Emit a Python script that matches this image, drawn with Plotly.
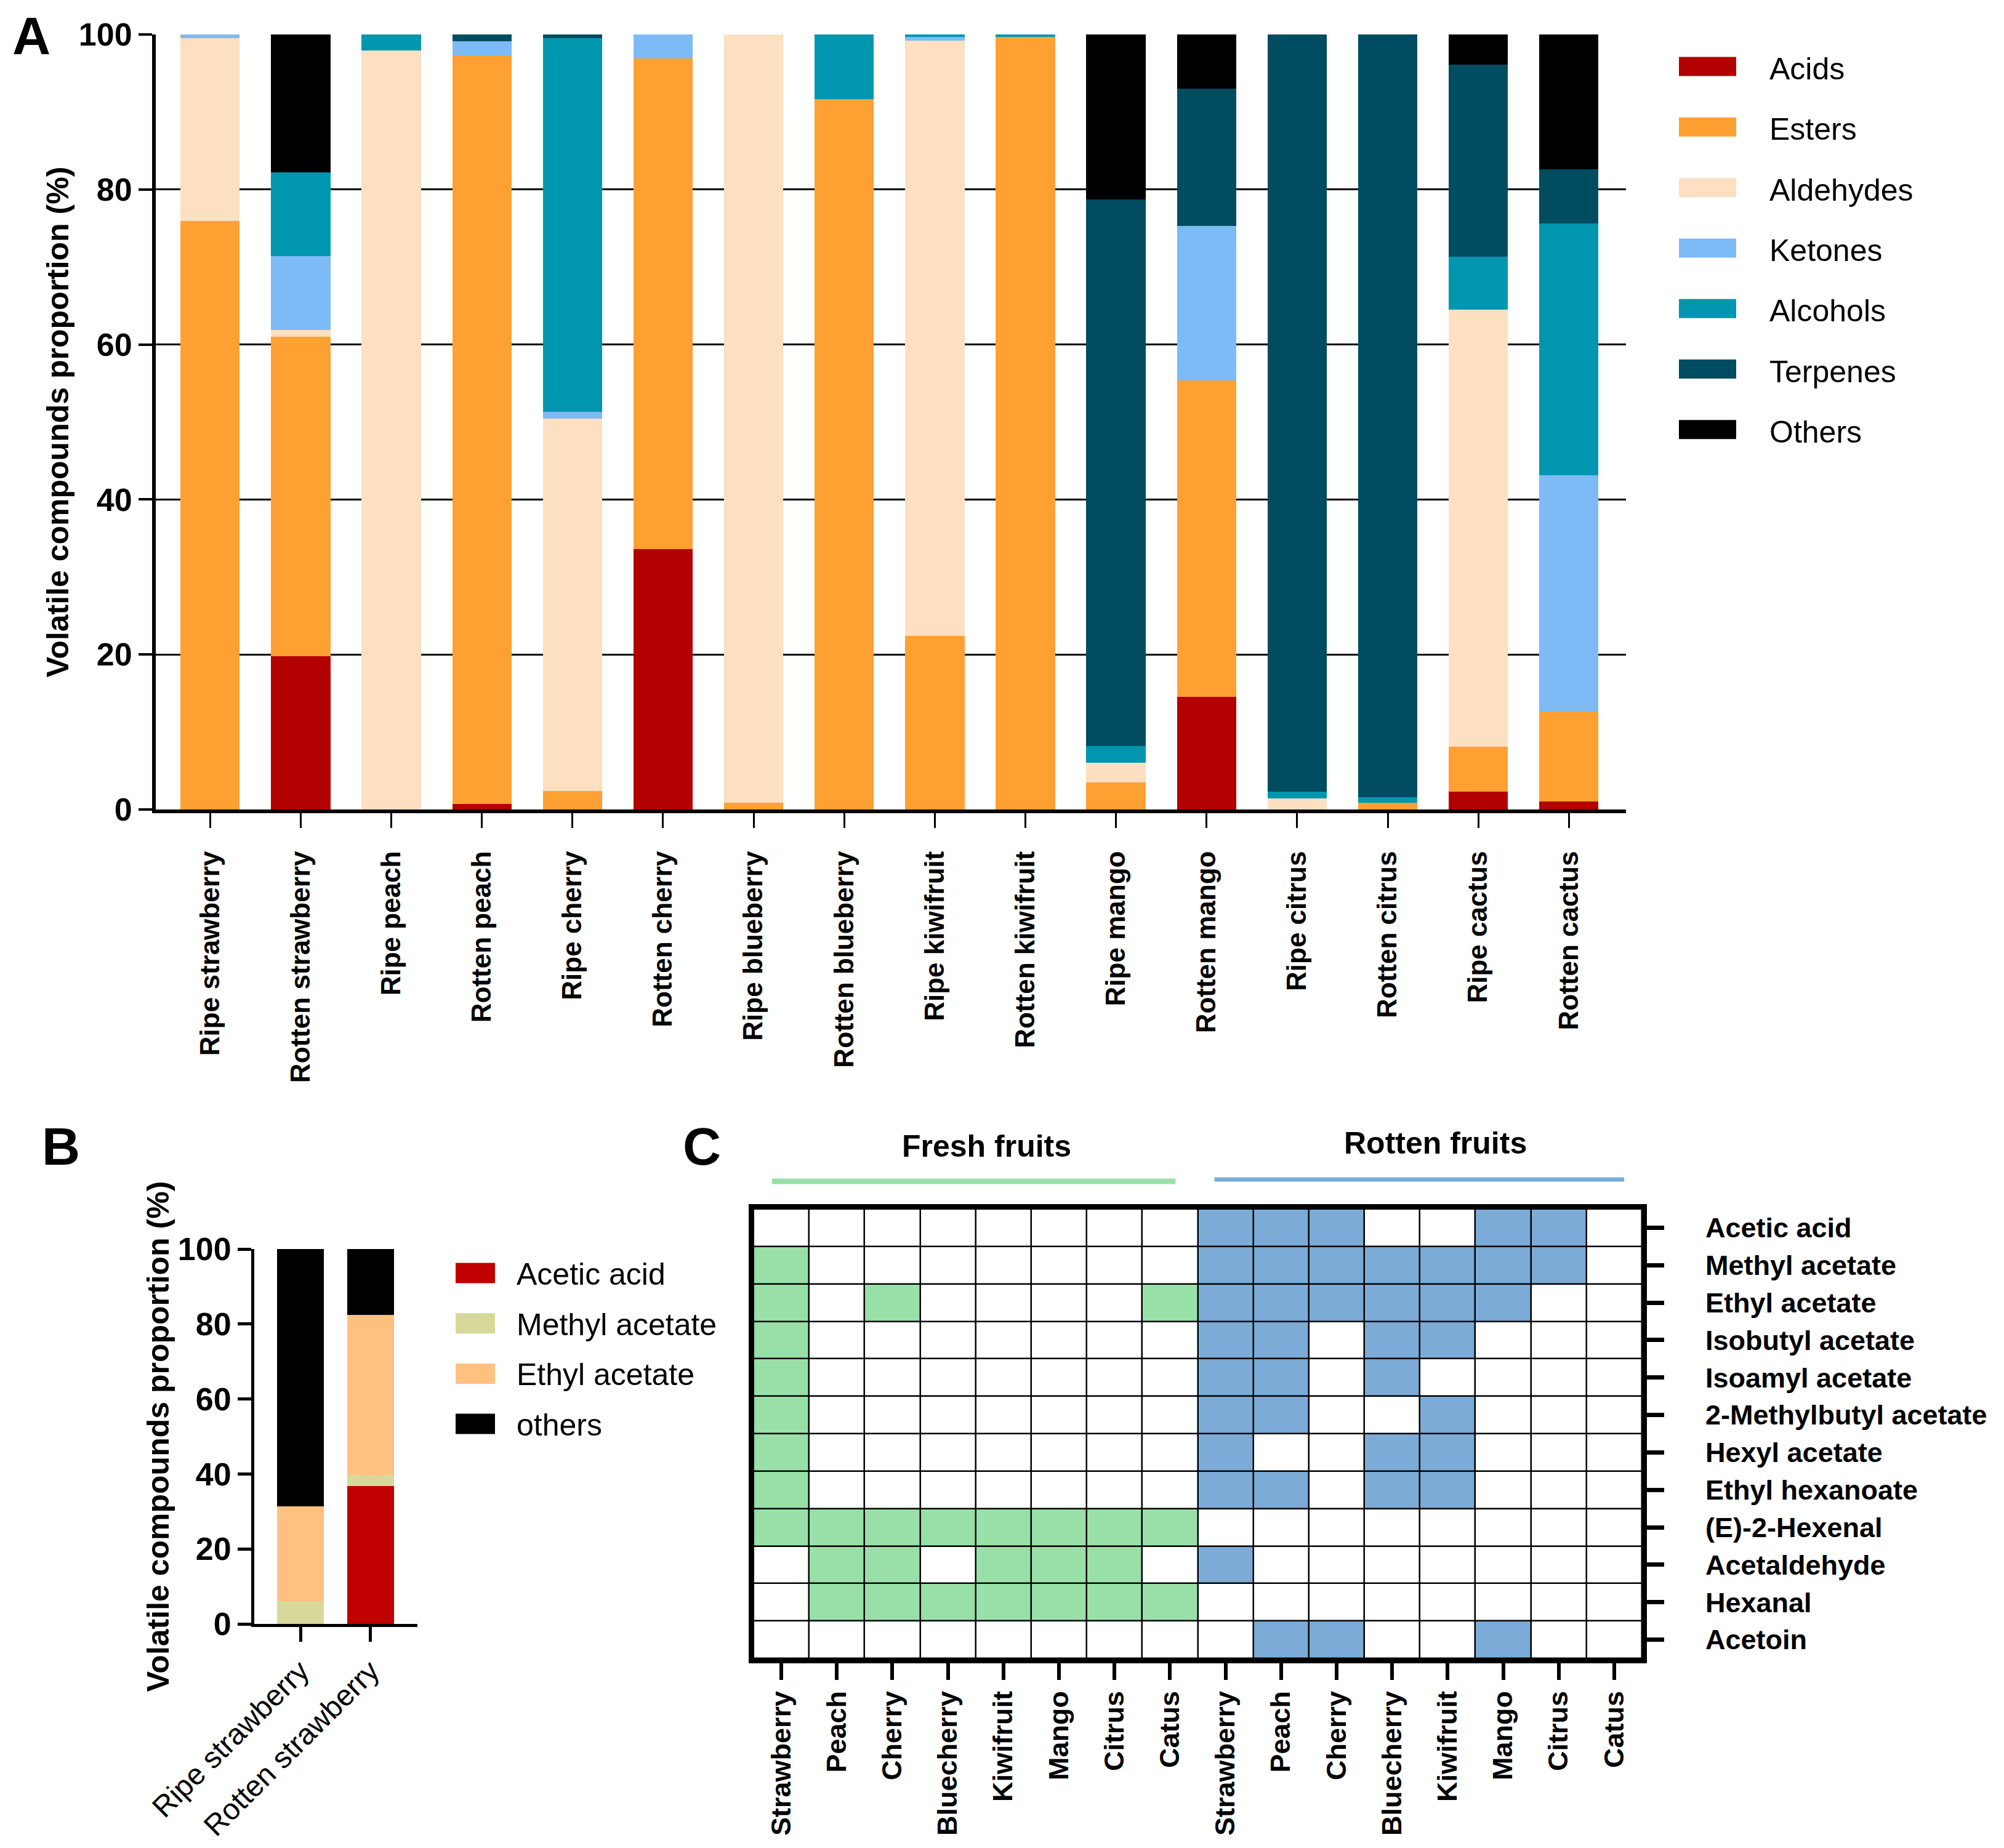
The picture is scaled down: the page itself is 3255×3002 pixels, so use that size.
import plotly.graph_objects as go

W, H = 3255, 3002
OFF = 8  # page body margin
FONT = "Liberation Sans, Arial, sans-serif"

# ---------------- panel A data ----------------
samples_a = [
    "Ripe strawberry", "Rotten strawberry", "Ripe peach", "Rotten peach",
    "Ripe cherry", "Rotten cherry", "Ripe blueberry", "Rotten blueberry",
    "Ripe kiwifruit", "Rotten kiwifruit", "Ripe mango", "Rotten mango",
    "Ripe citrus", "Rotten citrus", "Ripe cactus", "Rotten cactus",
]
groups_a = ["Acids", "Esters", "Aldehydes", "Ketones", "Alcohols", "Terpenes", "Others"]
colors_a = ["#B30000", "#FFA033", "#FDDFC1", "#7DBBF7", "#0096AF", "#004C60", "#000000"]
acids = [0, 19.8, 0, 0.7, 0, 33.6, 0, 0, 0, 0, 0, 14.5, 0, 0, 2.3, 1.0]
esters = [75.9, 41.2, 0, 96.6, 2.4, 63.3, 0.9, 91.7, 22.4, 99.7, 3.5, 40.9, 0, 0.9, 5.8, 11.6]
aldehydes = [23.6, 0.9, 97.9, 0, 48.0, 0, 99.1, 0, 76.8, 0, 2.5, 0, 1.4, 0, 56.4, 0]
ketones = [0.5, 9.5, 0, 1.8, 0.9, 3.1, 0, 0, 0.5, 0, 0, 19.9, 0, 0, 0, 30.5]
alcohols = [0, 10.8, 2.1, 0, 48.2, 0, 0, 8.3, 0.3, 0.3, 2.2, 0, 0.9, 0.7, 6.8, 32.5]
terpenes = [0, 0, 0, 0.9, 0.5, 0, 0, 0, 0, 0, 70.5, 17.7, 97.7, 98.4, 24.8, 7.0]
others = [0, 17.8, 0, 0, 0, 0, 0, 0, 0, 0, 21.3, 7.0, 0, 0, 3.9, 17.4]
series_a = [acids, esters, aldehydes, ketones, alcohols, terpenes, others]

# ---------------- panel B data ----------------
samples_b = ["Ripe strawberry", "Rotten strawberry"]
groups_b = ["Acetic acid", "Methyl acetate", "Ethyl acetate", "others"]
colors_b = ["#C00000", "#D7D99B", "#FFC080", "#000000"]
acetic_acid = [0, 36.8]
methyl_acetate = [6.1, 3.0]
ethyl_acetate = [25.3, 42.7]
others_b = [68.6, 17.5]
series_b = [acetic_acid, methyl_acetate, ethyl_acetate, others_b]

# ---------------- panel C data ----------------
fruits = ["Strawberry", "Peach", "Cherry", "Bluecherry", "Kiwifruit", "Mango", "Citrus", "Catus"]
compounds = [
    "Acetic acid", "Methyl acetate", "Ethyl acetate", "Isobutyl acetate",
    "Isoamyl acetate", "2-Methylbutyl acetate", "Hexyl acetate", "Ethyl hexanoate",
    "(E)-2-Hexenal", "Acetaldehyde", "Hexanal", "Acetoin",
]
fresh_presence = [
    [0, 0, 0, 0, 0, 0, 0, 0],
    [1, 0, 0, 0, 0, 0, 0, 0],
    [1, 0, 1, 0, 0, 0, 0, 1],
    [1, 0, 0, 0, 0, 0, 0, 0],
    [1, 0, 0, 0, 0, 0, 0, 0],
    [1, 0, 0, 0, 0, 0, 0, 0],
    [1, 0, 0, 0, 0, 0, 0, 0],
    [1, 0, 0, 0, 0, 0, 0, 0],
    [1, 1, 1, 1, 1, 1, 1, 1],
    [0, 1, 1, 0, 1, 1, 1, 0],
    [0, 1, 1, 1, 1, 1, 1, 1],
    [0, 0, 0, 0, 0, 0, 0, 0],
]
rotten_presence = [
    [1, 1, 1, 0, 0, 1, 1, 0],
    [1, 1, 1, 1, 1, 1, 1, 0],
    [1, 1, 1, 1, 1, 1, 0, 0],
    [1, 1, 0, 1, 1, 0, 0, 0],
    [1, 1, 0, 1, 0, 0, 0, 0],
    [1, 1, 0, 0, 1, 0, 0, 0],
    [1, 0, 0, 1, 1, 0, 0, 0],
    [1, 1, 0, 1, 1, 0, 0, 0],
    [0, 0, 0, 0, 0, 0, 0, 0],
    [1, 0, 0, 0, 0, 0, 0, 0],
    [0, 0, 0, 0, 0, 0, 0, 0],
    [0, 1, 1, 0, 0, 1, 0, 0],
]
FRESH_COLOR = "#98E0A8"
ROTTEN_COLOR = "#7BABD6"


def px_x(x):
    return (x - OFF) / W


def px_y(y):
    return 1 - (y - OFF) / H


fig = go.Figure()

# panel A stacked bars
for name, color, vals in zip(groups_a, colors_a, series_a):
    fig.add_trace(go.Bar(
        x=samples_a, y=vals, name=name, marker=dict(color=color, line_width=0),
        width=0.655, xaxis="x", yaxis="y", showlegend=False,
    ))

# panel B stacked bars
for name, color, vals in zip(groups_b, colors_b, series_b):
    fig.add_trace(go.Bar(
        x=samples_b, y=vals, name=name, marker=dict(color=color, line_width=0),
        width=0.67, xaxis="x2", yaxis="y2", showlegend=False,
    ))

# panel C presence map: 0 absent, 1 fresh, 2 rotten
z = []
for f_row, r_row in zip(fresh_presence, rotten_presence):
    z.append([v * 1 for v in f_row] + [v * 2 for v in r_row])
fig.add_trace(go.Heatmap(
    z=z, x=list(range(len(fruits) * 2)), y=list(range(len(compounds))),
    zmin=0, zmax=2, showscale=False, xgap=2.5, ygap=2.5,
    colorscale=[[0, "white"], [0.5, FRESH_COLOR], [1, ROTTEN_COLOR]],
    xaxis="x3", yaxis="y3", hoverinfo="skip",
))

tick_bold = dict(family=FONT, size=52, color="black", weight="bold")

fig.update_layout(
    template="none",
    width=W, height=H, autosize=False,
    margin=dict(l=0, r=0, t=0, b=0, autoexpand=False),
    paper_bgcolor="white", plot_bgcolor="white",
    barmode="stack", bargap=0.3,
    font=dict(family=FONT, color="black"),
    xaxis=dict(
        domain=[px_x(253), px_x(2641)], anchor="y", automargin=False,
        range=[-0.6, 15.63], showline=True, linecolor="black", linewidth=6,
        ticks="outside", ticklen=24, tickwidth=3, tickcolor="black",
        tickangle=-90, ticklabelstandoff=20,
        tickfont=dict(family=FONT, size=44, color="black", weight="bold"),
        showgrid=False, zeroline=False,
    ),
    yaxis=dict(
        domain=[px_y(1315), px_y(56)], anchor="x", automargin=False,
        range=[0, 100], tickvals=[0, 20, 40, 60, 80, 100],
        showline=True, linecolor="black", linewidth=6,
        ticks="outside", ticklen=22, tickwidth=4, tickcolor="black",
        tickfont=tick_bold, showgrid=False, zeroline=False,
        minor=dict(tickvals=[20, 40, 60, 80], showgrid=True, gridcolor="black",
                   gridwidth=2.5, ticks=""),
        title=dict(text="Volatile compounds proportion (%)", standoff=2,
                   font=dict(family=FONT, size=50, color="black", weight="bold")),
    ),
    xaxis2=dict(
        domain=[px_x(413), px_x(678)], anchor="y2", automargin=False,
        range=[-0.658, 1.667], showline=True, linecolor="black", linewidth=5,
        ticks="outside", ticklen=24, tickwidth=5, tickcolor="black",
        tickangle=-45, ticklabelstandoff=0,
        tickfont=dict(family=FONT, size=48, color="black"),
        showgrid=False, zeroline=False,
    ),
    yaxis2=dict(
        domain=[px_y(2638), px_y(2029)], anchor="x2", automargin=False,
        range=[0, 100], tickvals=[0, 20, 40, 60, 80, 100],
        showline=True, linecolor="black", linewidth=5,
        ticks="outside", ticklen=22, tickwidth=5, tickcolor="black",
        tickfont=tick_bold, showgrid=False, zeroline=False,
        title=dict(text="Volatile compounds proportion (%)", standoff=0,
                   font=dict(family=FONT, size=50, color="black", weight="bold")),
    ),
    xaxis3=dict(
        domain=[px_x(1224), px_x(2667)], anchor="y3", automargin=False,
        range=[-0.5, 15.5], tickvals=list(range(len(fruits) * 2)),
        ticktext=fruits + fruits, tickangle=-90,
        showline=True, linecolor="black", linewidth=8, mirror=True,
        ticks="outside", ticklen=27, tickwidth=6, tickcolor="black",
        ticklabelstandoff=0,
        tickfont=dict(family=FONT, size=45, color="black", weight="bold"),
        showgrid=False, zeroline=False,
    ),
    yaxis3=dict(
        domain=[px_y(2694), px_y(1964)], anchor="x3", side="right", automargin=False,
        range=[len(compounds) - 0.5, -0.5], tickvals=list(range(len(compounds))),
        ticktext=compounds,
        showline=True, linecolor="black", linewidth=8, mirror=True,
        ticks="outside", ticklen=28, tickwidth=7, tickcolor="black",
        ticklabelstandoff=58,
        tickfont=dict(family=FONT, size=45, color="black", weight="bold"),
        showgrid=False, zeroline=False,
    ),
)

shapes = []
annotations = []

# black backing under the map so the cell gaps read as grid lines
shapes.append(dict(type="rect", xref="x3 domain", yref="y3 domain",
                   x0=0, x1=1, y0=0, y1=1, fillcolor="black",
                   line=dict(width=0), layer="below"))

# legend for panel A
for i, (name, color) in enumerate(zip(groups_a, colors_a)):
    yc = 108 + 98.3 * i
    shapes.append(dict(type="rect", xref="paper", yref="paper",
                       x0=px_x(2727), x1=px_x(2820), y0=px_y(yc + 15.5), y1=px_y(yc - 15.5),
                       fillcolor=color, line=dict(width=0)))
    annotations.append(dict(text=name, xref="paper", yref="paper",
                            x=px_x(2872), y=px_y(yc + 4), xanchor="left", yanchor="middle",
                            showarrow=False, font=dict(family=FONT, size=50, color="black")))

# legend for panel B
for i, (name, color) in enumerate(zip(groups_b, colors_b)):
    yc = 2068 + 81.7 * i
    shapes.append(dict(type="rect", xref="paper", yref="paper",
                       x0=px_x(740), x1=px_x(804), y0=px_y(yc + 16.5), y1=px_y(yc - 16.5),
                       fillcolor=color, line=dict(width=0)))
    annotations.append(dict(text=name, xref="paper", yref="paper",
                            x=px_x(837), y=px_y(yc + 2), xanchor="left", yanchor="middle",
                            showarrow=False, font=dict(family=FONT, size=50, color="black")))

# group headers over the map
shapes.append(dict(type="line", xref="x3", yref="paper", x0=-0.17, x1=7.1,
                   y0=px_y(1919), y1=px_y(1919), line=dict(color=FRESH_COLOR, width=9)))
shapes.append(dict(type="line", xref="x3", yref="paper", x0=7.8, x1=15.18,
                   y0=px_y(1916), y1=px_y(1916), line=dict(color=ROTTEN_COLOR, width=7)))
annotations.append(dict(text="Fresh fruits", xref="paper", yref="paper",
                        x=px_x(1602), y=px_y(1862), xanchor="center", yanchor="middle",
                        showarrow=False,
                        font=dict(family=FONT, size=50, color="black", weight="bold")))
annotations.append(dict(text="Rotten fruits", xref="paper", yref="paper",
                        x=px_x(2331), y=px_y(1857), xanchor="center", yanchor="middle",
                        showarrow=False,
                        font=dict(family=FONT, size=50, color="black", weight="bold")))

# panel letters (anchored by their top edge)
for letter, (lx, ly) in zip(["A", "B", "C"], [(51, 8), (99, 1812), (1140, 1812)]):
    annotations.append(dict(text=letter, xref="paper", yref="paper",
                            x=px_x(lx), y=px_y(ly), xanchor="center", yanchor="top",
                            showarrow=False,
                            font=dict(family=FONT, size=86, color="black", weight="bold")))

fig.update_layout(shapes=shapes, annotations=annotations)

fig.write_html("out.html")
